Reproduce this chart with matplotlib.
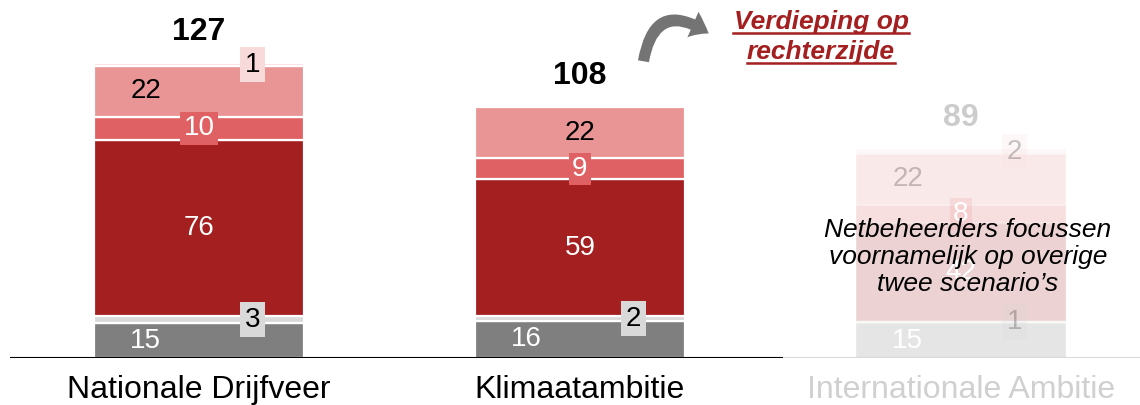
import matplotlib.pyplot as plt
from matplotlib.patches import FancyArrowPatch
from matplotlib.lines import Line2D

plt.rcParams['font.family'] = ['Liberation Sans', 'DejaVu Sans']

scenarios = ['Nationale Drijfveer', 'Klimaatambitie', 'Internationale Ambitie']
grey_part = [15, 16, 15]
light_grey_part = [3, 2, 1]
dark_red_part = [76, 59, 42]
mid_red_part = [10, 9, 8]
pink_part = [22, 22, 22]
pale_part = [1, 0, 2]
totals = [127, 108, 89]

# (values, fill, label colour, label placement)
layers = [
    (grey_part, '#7f7f7f', 'white', 'left'),
    (light_grey_part, '#d9d9d9', 'black', 'side'),
    (dark_red_part, '#a31f20', 'white', 'center'),
    (mid_red_part, '#e06163', 'white', 'boxed'),
    (pink_part, '#e99595', 'black', 'left'),
    (pale_part, '#f9dadb', 'black', 'side'),
]

fig = plt.figure(figsize=(11.4, 4.05), dpi=100)
ax = fig.add_axes([0, 47 / 405, 1, 358 / 405])

x = [0, 1, 2]
width = 0.55
bottoms = [0, 0, 0]
for vals, color, tcolor, where in layers:
    for i in x:
        v = vals[i]
        if v == 0:
            continue
        faded = (i == 2)
        alpha = 0.2 if faded else 1.0
        talpha = 1.0 if tcolor == 'white' else (0.22 if faded else 1.0)
        ax.bar(i, v, width, bottom=bottoms[i], color=color, edgecolor='white',
               linewidth=1.6, alpha=alpha, zorder=2)
        mid = bottoms[i] + v / 2
        if where == 'side':
            ax.text(i + 0.14, mid, str(v), ha='center', va='center', fontsize=20,
                    color=tcolor, alpha=talpha, zorder=4,
                    bbox=dict(boxstyle='square,pad=0.17', fc=color, ec='none', alpha=alpha))
        elif where == 'boxed':
            ax.text(i, mid, str(v), ha='center', va='center', fontsize=20,
                    color=tcolor, alpha=talpha, zorder=4,
                    bbox=dict(boxstyle='square,pad=0.12', fc=color, ec='none',
                              alpha=0.12 if faded else 1.0))
        else:
            dx = -0.14 if (where == 'left' and not (i == 1 and color == '#e99595')) else 0
            ax.text(i + dx, mid, str(v), ha='center', va='center', fontsize=20,
                    color=tcolor, alpha=talpha, zorder=4)
        bottoms[i] += v

for i in x:
    ax.text(i, bottoms[i] + 7.0, str(totals[i]), ha='center', va='bottom',
            fontsize=23, fontweight='bold', color='black',
            alpha=0.2 if i == 2 else 1.0)

ax.set_xlim(-0.522, 2.47)
ax.set_ylim(0, 154.3)
for s in ax.spines.values():
    s.set_visible(False)
ax.set_yticks([])
ax.set_xticks(x)
ax.set_xticklabels(scenarios, fontsize=23)
ax.tick_params(axis='x', length=0, pad=12)
ax.get_xticklabels()[2].set_color('#d0d0d0')

# baseline, faded under the last scenario
ax.hlines(0, -0.496, 1.533, color='black', linewidth=1.5, zorder=3)
ax.hlines(0, 1.533, 2.47, color='#d9d9d9', linewidth=1.5, zorder=3)

fig.text(968 / 1140, 1 - 257 / 405,
         'Netbeheerders focussen\nvoornamelijk op overige\ntwee scenario\u2019s',
         ha='center', va='center', fontsize=19, style='italic', color='black',
         linespacing=1.17, zorder=6)

# curved arrow pointing to the side note
arrow = FancyArrowPatch((643 / 1140, 1 - 64 / 405), (711 / 1140, 1 - 35 / 405),
                        transform=fig.transFigure,
                        connectionstyle='arc3,rad=-0.8',
                        arrowstyle='simple,head_length=13,head_width=20,tail_width=8',
                        color='#747474', lw=0)
fig.add_artist(arrow)

note_lines = [('Verdieping op', 22), ('rechterzijde', 52)]
note_texts = []
for s, ypix in note_lines:
    t = fig.text(821 / 1140, 1 - ypix / 405, s, ha='center', va='center',
                 fontsize=19, fontweight='bold', style='italic', color='#a31f20')
    note_texts.append(t)

fig.canvas.draw()
renderer = fig.canvas.get_renderer()
for t in note_texts:
    bb = t.get_window_extent(renderer)
    y = bb.y0 + 1
    fig.add_artist(Line2D([bb.x0 / 1140, bb.x1 / 1140], [y / 405, y / 405],
                          transform=fig.transFigure, color='#a31f20', linewidth=1.8))

fig.savefig('out.png', dpi=100)
